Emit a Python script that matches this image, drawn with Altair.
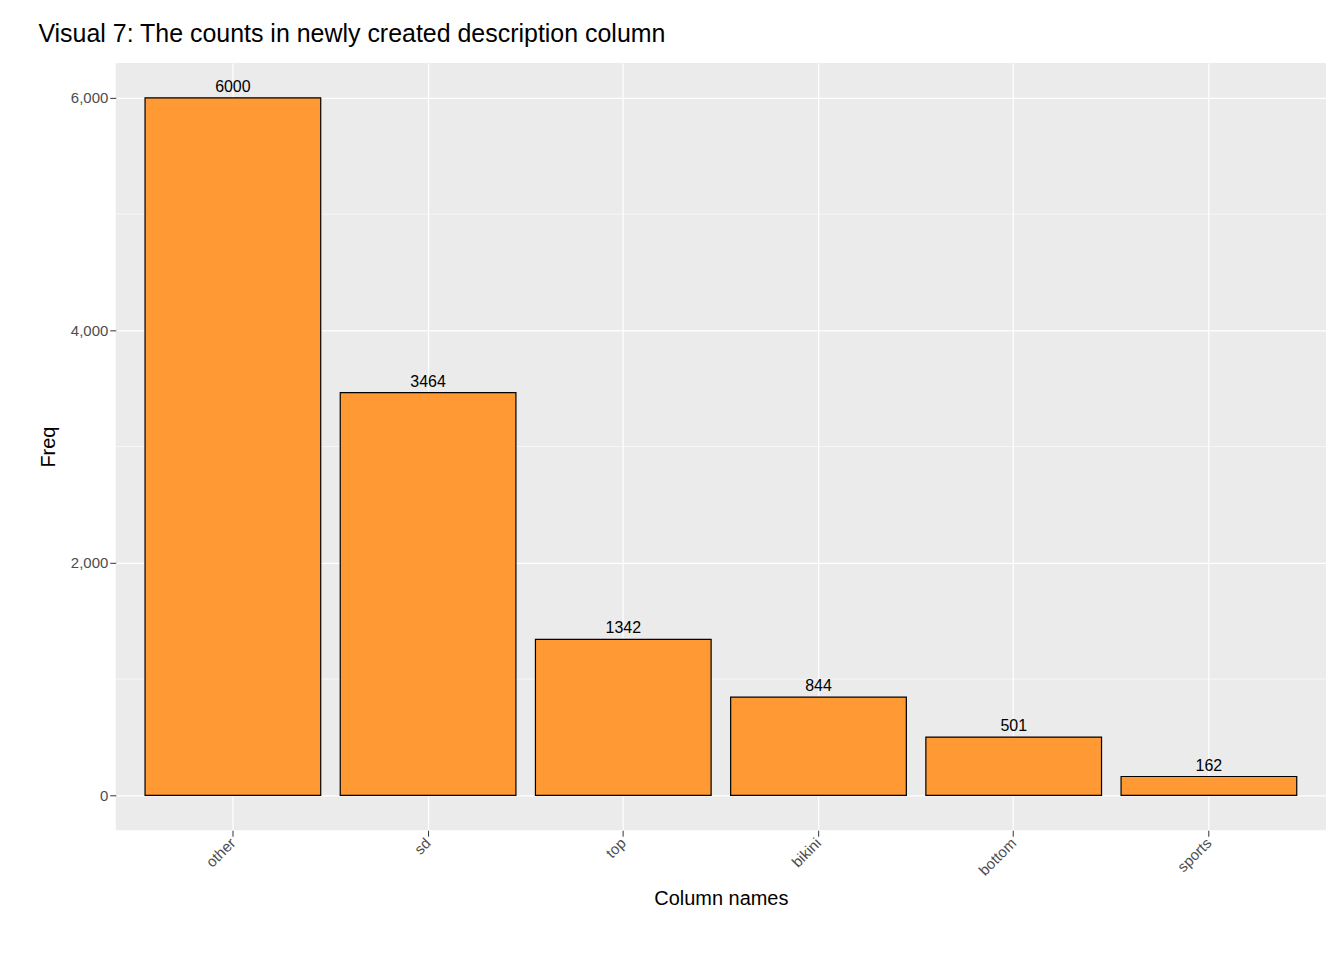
import altair as alt
import pandas as pd

categories = ["other", "sd", "top", "bikini", "bottom", "sports"]
freq = [6000, 3464, 1342, 844, 501, 162]
minor_ticks = [1000, 3000, 5000]

df = pd.DataFrame({"name": categories, "Freq": freq})

yscale = alt.Scale(domain=[-300, 6300], nice=False, zero=False)
xscale = alt.Scale(domain=categories, paddingInner=0.1, paddingOuter=0.15)

yaxis = alt.Axis(values=[0, 2000, 4000, 6000], labelFontSize=15,
                 labelColor="#4D4D4D", titleFontSize=20, titleFontWeight="normal",
                 titleColor="black", grid=True, gridColor="white", gridWidth=1.2,
                 domain=False, tickColor="#333333", tickSize=6, titlePadding=12)

base = alt.Chart(df)

minor = alt.Chart(pd.DataFrame({"v": minor_ticks})).mark_rule(
    color="white", strokeWidth=0.6
).encode(y=alt.Y("v:Q", scale=yscale, axis=yaxis, title="Freq"))

bars = base.mark_bar(color="#FF9933", stroke="black", strokeWidth=1.2).encode(
    x=alt.X("name:N", scale=xscale, sort=categories, title="Column names",
            axis=alt.Axis(labelAngle=-45, labelAlign="right", labelBaseline="middle",
                          labelFontSize=15, labelColor="#4D4D4D", titleFontSize=20,
                          titleFontWeight="normal", titleColor="black", titlePadding=10,
                          grid=True, gridColor="white", gridWidth=1.2, bandPosition=0.5,
                          domain=False, tickColor="#333333", tickSize=6, labelPadding=4)),
    y=alt.Y("Freq:Q", scale=yscale, title="Freq", axis=yaxis),
    y2=alt.datum(0),
)

labels = base.mark_text(baseline="bottom", dy=-3, fontSize=16, color="black").encode(
    x=alt.X("name:N", scale=xscale, sort=categories),
    y=alt.Y("Freq:Q", scale=yscale),
    text="Freq:Q",
)

chart = (minor + bars + labels).properties(
    width=1213, height=769,
    title=alt.TitleParams("Visual 7: The counts in newly created description column",
                          fontSize=25, fontWeight="normal", anchor="start", color="black",
                          offset=16),
    autosize=alt.AutoSizeParams(type="none"),
    padding={"left": 108, "top": 54, "right": 10, "bottom": 120},
).configure(font="Liberation Sans").configure_view(fill="#EBEBEB", stroke=None)

chart.save("out.html", embed_options={"renderer": "svg", "actions": False})
